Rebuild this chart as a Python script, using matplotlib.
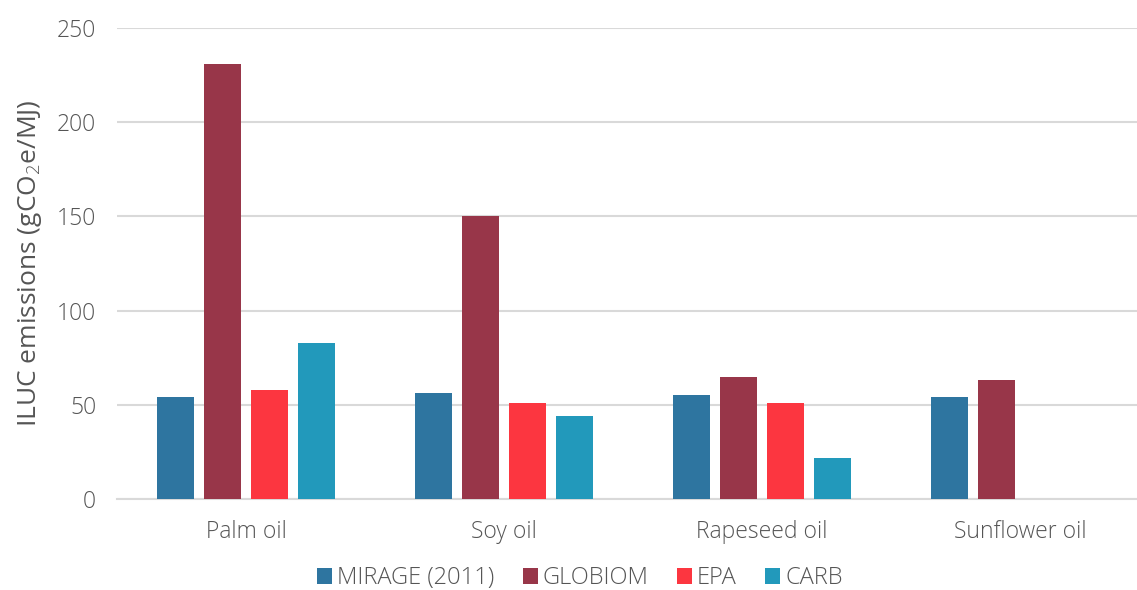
import matplotlib
matplotlib.use("Agg")
import matplotlib.pyplot as plt
import numpy as np

# Données
categories = ["Palm oil", "Soy oil", "Rapeseed oil", "Sunflower oil"]
series_names = ["MIRAGE (2011)", "GLOBIOM", "EPA", "CARB"]
mirage = [54, 56, 55, 54]
globiom = [231, 150, 65, 63]
epa = [58, 51, 51, np.nan]
carb = [83, 44, 22, np.nan]
colors = ["#2E75A0", "#983649", "#FC3640", "#2299BB"]
y_ticks = [0, 50, 100, 150, 200, 250]

plt.rcParams["font.family"] = ["Open Sans", "DejaVu Sans"]
plt.rcParams["font.weight"] = "light"
plt.rcParams["mathtext.fontset"] = "custom"
plt.rcParams["mathtext.rm"] = "Open Sans:light"
plt.rcParams["mathtext.it"] = "Open Sans:light"
text_color = "#555555"

fig = plt.figure(figsize=(11.37, 5.90), dpi=100)
ax = fig.add_axes([117 / 1137, 91 / 590, 1020 / 1137, 471 / 590])

x = np.arange(len(categories))
step = 0.182
width = 0.143
for k, (vals, name) in enumerate(zip([mirage, globiom, epa, carb], series_names)):
    ax.bar(x + (k - 1.5) * step, vals, width, color=colors[k], label=name, zorder=3)

ax.set_xlim(-0.5, 3.453)
ax.set_ylim(0, 250)
ax.set_yticks(y_ticks)
ax.set_xticks(x)
ax.set_xticklabels(categories)
ax.grid(axis="y", color="#d9d9d9", linewidth=1.5, zorder=0)
for s in ["top", "right", "left"]:
    ax.spines[s].set_visible(False)
ax.spines["bottom"].set_color("#d9d9d9")
ax.spines["bottom"].set_linewidth(1.5)
ax.tick_params(axis="both", length=0, labelsize=16.5, labelcolor=text_color)
ax.tick_params(axis="x", pad=15)
ax.tick_params(axis="y", pad=15)

ax.set_ylabel("ILUC emissions (gCO$_2$e/MJ)", fontsize=19, color=text_color, labelpad=9)

leg = fig.legend(loc="center", bbox_to_anchor=(0.51, 0.02), ncol=4, frameon=False,
                 fontsize=17, handlelength=0.65, handleheight=0.65, handletextpad=0.2,
                 columnspacing=1.2)
for t in leg.get_texts():
    t.set_color(text_color)

fig.savefig("out.png", dpi=100)
